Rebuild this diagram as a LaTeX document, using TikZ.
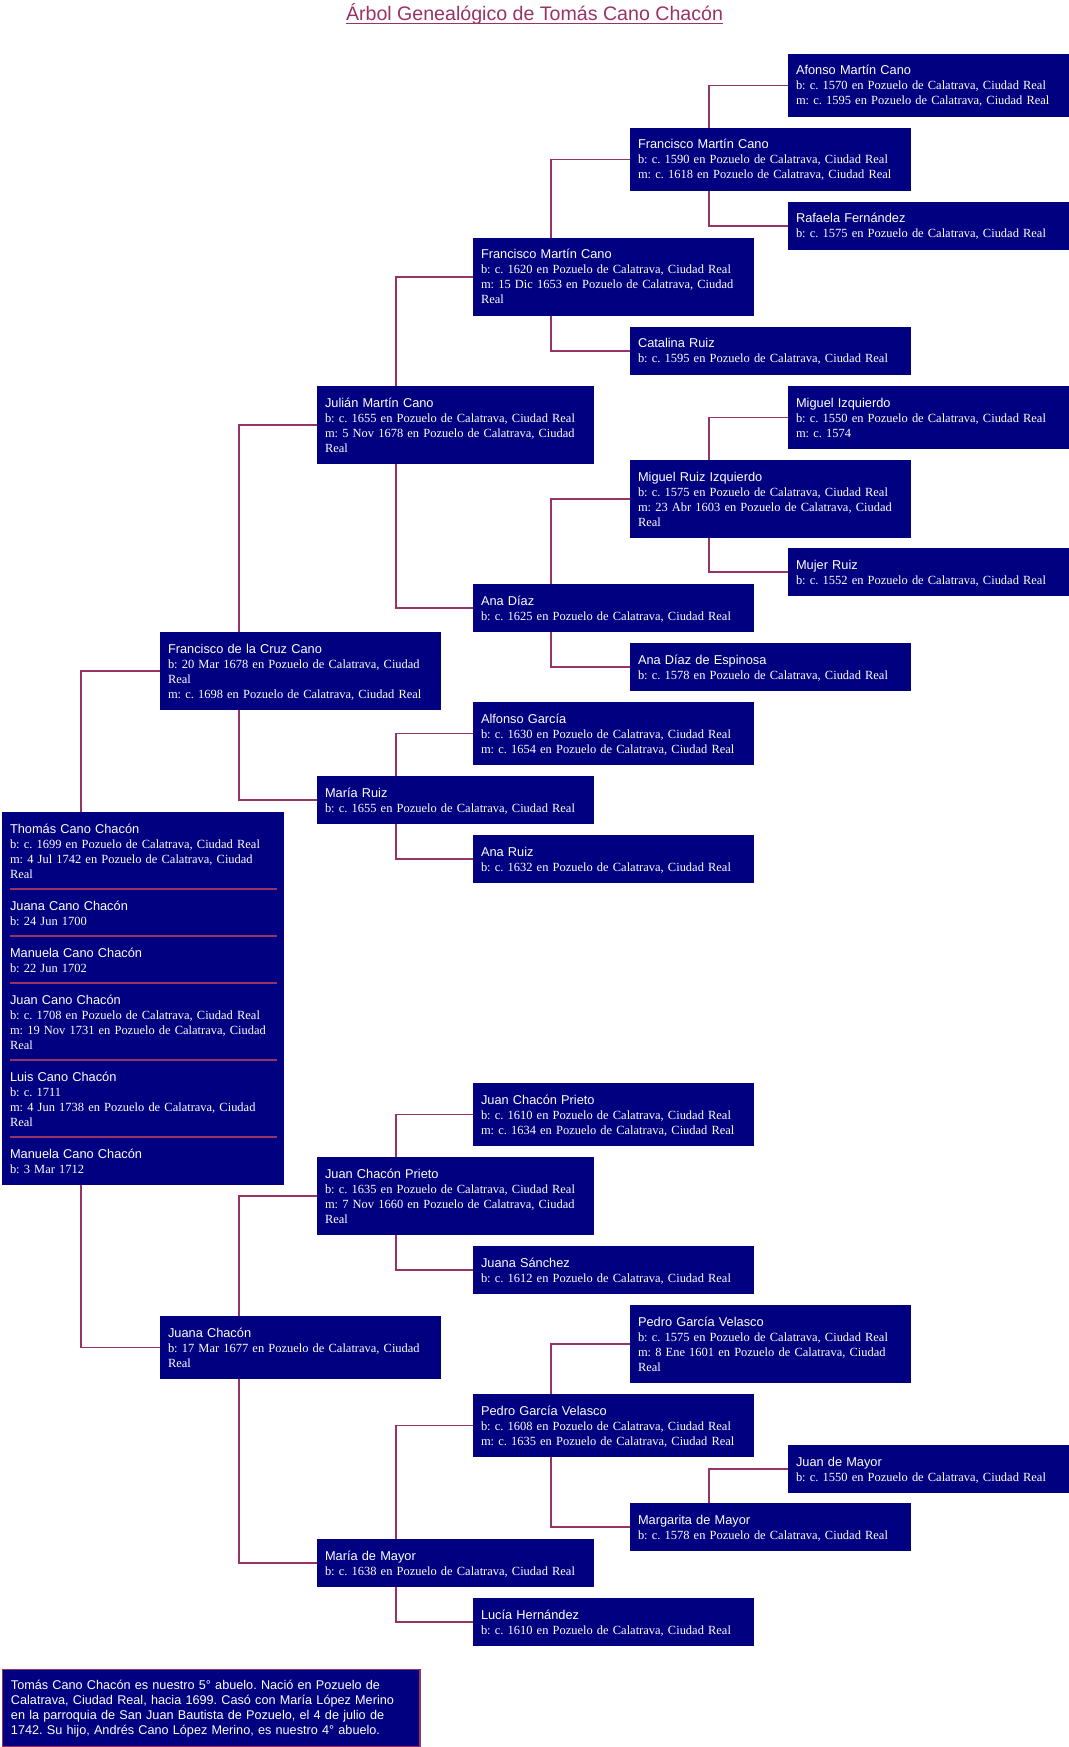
\documentclass[tikz,border=0pt]{standalone}
\usepackage{fontspec}
\setmainfont{Liberation Serif}
\newfontfamily\nmfont{Liberation Sans}
\usetikzlibrary{calc}
\definecolor{boxblue}{HTML}{000080}
\definecolor{linkred}{HTML}{993366}
\newcommand\pname[1]{{\nmfont\fontsize{9.6pt}{11.25pt}\selectfont #1}\\}
\tikzset{
  person/.style={fill=boxblue, text=white, anchor=north west, inner xsep=6pt, inner ysep=0pt,
    outer sep=0pt, align=left, text height=15.75pt,
    font=\frenchspacing\fontsize{9.35pt}{11.25pt}\selectfont},
  wA/.style={text width=198.75pt},
  wB/.style={text width=195.75pt},
  wT/.style={text width=199.5pt},
  n2/.style={text depth=20.25pt},
  n3/.style={text depth=31.5pt},
  n4/.style={text depth=42.75pt},
  conn/.style={draw=linkred, line width=0.8pt},
  sepline/.style={draw=linkred, line width=1.2pt},
  note/.style={fill=boxblue, draw=linkred, line width=1.1pt, text=white, anchor=north west,
    inner xsep=6.2pt, inner ysep=0pt, outer sep=0pt, align=left, text width=300.5pt,
    text height=15pt, text depth=42.75pt,
    font=\frenchspacing\nmfont\fontsize{9.5pt}{11.25pt}\selectfont},
  titlestyle/.style={anchor=base, inner sep=0pt, text=linkred,
    font=\nmfont\fontsize{14.7pt}{17pt}\selectfont},
}
\begin{document}
\frenchspacing
\begin{tikzpicture}[x=0.75pt,y=-0.75pt]
\fill[white] (0,0) rectangle (1069,1747);
\useasboundingbox (0,0) rectangle (1069,1747);

% title
\node[titlestyle] (title) at (534.5,20.7) {Árbol Genealógico de Tomás Cano Chacón};
\draw[linkred, line width=0.75pt] ([yshift=-1.8pt]title.base west) -- ([yshift=-1.8pt]title.base east);

% column 5
\node[person,wA,n3] (afonso) at (788,54) {\pname{Afonso Martín Cano}b: c. 1570 en Pozuelo de Calatrava, Ciudad Real\\m: c. 1595 en Pozuelo de Calatrava, Ciudad Real};
\node[person,wA,n2] (rafaela) at (788,202) {\pname{Rafaela Fernández}b: c. 1575 en Pozuelo de Calatrava, Ciudad Real};
\node[person,wA,n3] (migiz) at (788,386) {\pname{Miguel Izquierdo}b: c. 1550 en Pozuelo de Calatrava, Ciudad Real\\m: c. 1574};
\node[person,wA,n2] (mujer) at (788,548) {\pname{Mujer Ruiz}b: c. 1552 en Pozuelo de Calatrava, Ciudad Real};
\node[person,wA,n2] (juanmayor) at (788,1445) {\pname{Juan de Mayor}b: c. 1550 en Pozuelo de Calatrava, Ciudad Real};

% column 4
\node[person,wA,n3] (f1590) at (630,128) {\pname{Francisco Martín Cano}b: c. 1590 en Pozuelo de Calatrava, Ciudad Real\\m: c. 1618 en Pozuelo de Calatrava, Ciudad Real};
\node[person,wA,n2] (catalina) at (630,327) {\pname{Catalina Ruiz}b: c. 1595 en Pozuelo de Calatrava, Ciudad Real};
\node[person,wA,n4] (mri) at (630,460) {\pname{Miguel Ruiz Izquierdo}b: c. 1575 en Pozuelo de Calatrava, Ciudad Real\\m: 23 Abr 1603 en Pozuelo de Calatrava, Ciudad\\Real};
\node[person,wA,n2] (espinosa) at (630,643) {\pname{Ana Díaz de Espinosa}b: c. 1578 en Pozuelo de Calatrava, Ciudad Real};
\node[person,wA,n4] (pgv1575) at (630,1305) {\pname{Pedro García Velasco}b: c. 1575 en Pozuelo de Calatrava, Ciudad Real\\m: 8 Ene 1601 en Pozuelo de Calatrava, Ciudad\\Real};
\node[person,wA,n2] (margarita) at (630,1503) {\pname{Margarita de Mayor}b: c. 1578 en Pozuelo de Calatrava, Ciudad Real};

% column 3
\node[person,wA,n4] (f1620) at (473,238) {\pname{Francisco Martín Cano}b: c. 1620 en Pozuelo de Calatrava, Ciudad Real\\m: 15 Dic 1653 en Pozuelo de Calatrava, Ciudad\\Real};
\node[person,wA,n2] (anadiaz) at (473,584) {\pname{Ana Díaz}b: c. 1625 en Pozuelo de Calatrava, Ciudad Real};
\node[person,wA,n3] (alfonso) at (473,702) {\pname{Alfonso García}b: c. 1630 en Pozuelo de Calatrava, Ciudad Real\\m: c. 1654 en Pozuelo de Calatrava, Ciudad Real};
\node[person,wA,n2] (anaruiz) at (473,835) {\pname{Ana Ruiz}b: c. 1632 en Pozuelo de Calatrava, Ciudad Real};
\node[person,wA,n3] (jcp1610) at (473,1083) {\pname{Juan Chacón Prieto}b: c. 1610 en Pozuelo de Calatrava, Ciudad Real\\m: c. 1634 en Pozuelo de Calatrava, Ciudad Real};
\node[person,wA,n2] (jsanchez) at (473,1246) {\pname{Juana Sánchez}b: c. 1612 en Pozuelo de Calatrava, Ciudad Real};
\node[person,wA,n3] (pgv1608) at (473,1394) {\pname{Pedro García Velasco}b: c. 1608 en Pozuelo de Calatrava, Ciudad Real\\m: c. 1635 en Pozuelo de Calatrava, Ciudad Real};
\node[person,wA,n2] (lucia) at (473,1598) {\pname{Lucía Hernández}b: c. 1610 en Pozuelo de Calatrava, Ciudad Real};

% column 2
\node[person,wB,n4] (julian) at (317,386) {\pname{Julián Martín Cano}b: c. 1655 en Pozuelo de Calatrava, Ciudad Real\\m: 5 Nov 1678 en Pozuelo de Calatrava, Ciudad\\Real};
\node[person,wB,n2] (mariaruiz) at (317,776) {\pname{María Ruiz}b: c. 1655 en Pozuelo de Calatrava, Ciudad Real};
\node[person,wB,n4] (jcp1635) at (317,1157) {\pname{Juan Chacón Prieto}b: c. 1635 en Pozuelo de Calatrava, Ciudad Real\\m: 7 Nov 1660 en Pozuelo de Calatrava, Ciudad\\Real};
\node[person,wB,n2] (mariamayor) at (317,1539) {\pname{María de Mayor}b: c. 1638 en Pozuelo de Calatrava, Ciudad Real};

% column 1
\node[person,wA,n4] (fcruz) at (160,632) {\pname{Francisco de la Cruz Cano}b: 20 Mar 1678 en Pozuelo de Calatrava, Ciudad\\Real\\m: c. 1698 en Pozuelo de Calatrava, Ciudad Real};
\node[person,wA,n3] (jchacon) at (160,1316) {\pname{Juana Chacón}b: 17 Mar 1677 en Pozuelo de Calatrava, Ciudad\\Real};

% column 0: Thomás and siblings
\node[person,wT,n4] (t1) at (2,812) {\pname{Thomás Cano Chacón}b: c. 1699 en Pozuelo de Calatrava, Ciudad Real\\m: 4 Jul 1742 en Pozuelo de Calatrava, Ciudad\\Real};
\node[person,wT,n2] (t2) at (2,889) {\pname{Juana Cano Chacón}b: 24 Jun 1700};
\node[person,wT,n2] (t3) at (2,936) {\pname{Manuela Cano Chacón}b: 22 Jun 1702};
\node[person,wT,n4] (t4) at (2,983) {\pname{Juan Cano Chacón}b: c. 1708 en Pozuelo de Calatrava, Ciudad Real\\m: 19 Nov 1731 en Pozuelo de Calatrava, Ciudad\\Real};
\node[person,wT,n4] (t5) at (2,1060) {\pname{Luis Cano Chacón}b: c. 1711\\m: 4 Jun 1738 en Pozuelo de Calatrava, Ciudad\\Real};
\node[person,wT,n2] (t6) at (2,1137) {\pname{Manuela Cano Chacón}b: 3 Mar 1712};
\foreach \s in {t2,t3,t4,t5,t6}{
  \draw[sepline] ($(\s.north west)+(8,0)$) -- ($(\s.north east)+(-7,0)$);
}

% note
\node[note] (nota) at (2.7,1669.7) {Tomás Cano Chacón es nuestro 5° abuelo. Nació en Pozuelo de\\Calatrava, Ciudad Real, hacia 1699. Casó con María López Merino\\en la parroquia de San Juan Bautista de Pozuelo, el 4 de julio de\\1742. Su hijo, Andrés Cano López Merino, es nuestro 4° abuelo.};

% connectors: child -> father (up), child -> mother (down)
\draw[conn] ($(t1.north west)+(79,0)$) |- (fcruz.west);
\draw[conn] ($(t6.south west)+(79,0)$) |- (jchacon.west);
\draw[conn] ($(fcruz.north west)+(79,0)$) |- (julian.west);
\draw[conn] ($(fcruz.south west)+(79,0)$) |- (mariaruiz.west);
\draw[conn] ($(julian.north west)+(79,0)$) |- (f1620.west);
\draw[conn] ($(julian.south west)+(79,0)$) |- (anadiaz.west);
\draw[conn] ($(f1620.north west)+(78,0)$) |- (f1590.west);
\draw[conn] ($(f1620.south west)+(78,0)$) |- (catalina.west);
\draw[conn] ($(f1590.north west)+(79,0)$) |- (afonso.west);
\draw[conn] ($(f1590.south west)+(79,0)$) |- (rafaela.west);
\draw[conn] ($(anadiaz.north west)+(78,0)$) |- (mri.west);
\draw[conn] ($(anadiaz.south west)+(78,0)$) |- (espinosa.west);
\draw[conn] ($(mri.north west)+(79,0)$) |- (migiz.west);
\draw[conn] ($(mri.south west)+(79,0)$) |- (mujer.west);
\draw[conn] ($(mariaruiz.north west)+(79,0)$) |- (alfonso.west);
\draw[conn] ($(mariaruiz.south west)+(79,0)$) |- (anaruiz.west);
\draw[conn] ($(jchacon.north west)+(79,0)$) |- (jcp1635.west);
\draw[conn] ($(jchacon.south west)+(79,0)$) |- (mariamayor.west);
\draw[conn] ($(jcp1635.north west)+(79,0)$) |- (jcp1610.west);
\draw[conn] ($(jcp1635.south west)+(79,0)$) |- (jsanchez.west);
\draw[conn] ($(mariamayor.north west)+(79,0)$) |- (pgv1608.west);
\draw[conn] ($(mariamayor.south west)+(79,0)$) |- (lucia.west);
\draw[conn] ($(pgv1608.north west)+(78,0)$) |- (pgv1575.west);
\draw[conn] ($(pgv1608.south west)+(78,0)$) |- (margarita.west);
\draw[conn] ($(margarita.north west)+(79,0)$) |- (juanmayor.west);
\end{tikzpicture}
\end{document}
